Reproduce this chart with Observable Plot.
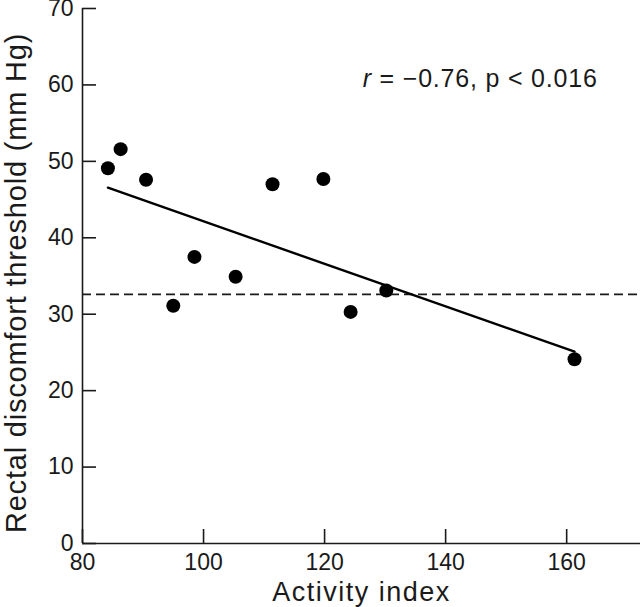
<!DOCTYPE html>
<html>
<head>
<meta charset="utf-8">
<script src="https://cdn.jsdelivr.net/npm/d3@7"></script>
<script src="https://cdn.jsdelivr.net/npm/@observablehq/plot@0.6"></script>
<style>
  html, body { margin: 0; padding: 0; background: #fff; }
  svg { display: block; }
  .xtitle text { letter-spacing: 1.5px; }
  .ytitle text { letter-spacing: 0.8px; }
  .annot text { letter-spacing: 0.8px; }
</style>
</head>
<body>
<div id="chart"></div>
<script>
// Data
const activityIndex = [84.2, 86.3, 90.5, 95.0, 98.5, 105.3, 111.4, 119.8, 124.3, 130.2, 161.3];
const discomfortThreshold = [49.1, 51.6, 47.6, 31.1, 37.5, 34.9, 47.0, 47.7, 30.3, 33.1, 24.1];
const referenceLevel = [32.6];
const xTicks = [80, 100, 120, 140, 160];
const yTicks = [0, 10, 20, 30, 40, 50, 60, 70];
const xTitle = "Activity index";
const yTitle = "Rectal discomfort threshold (mm Hg)";
const annotation = ["r = \u22120.76, p < 0.016"];
const annotationPos = {x: 126.3, y: 60.8};

const points = activityIndex.map((x, i) => ({x, y: discomfortThreshold[i]}));
const font = "'Liberation Sans', Arial, Helvetica, sans-serif";
const ink = "#1a1a1a";

const chart = Plot.plot({
  width: 640,
  height: 607,
  marginLeft: 82,
  marginRight: 0,
  marginTop: 8,
  marginBottom: 64,
  style: {fontFamily: font, background: "#fff", color: ink, overflow: "visible"},
  x: {domain: [80, 172.2]},
  y: {domain: [0, 70]},
  marks: [
    Plot.ruleY(referenceLevel, {stroke: ink, strokeWidth: 1.6, strokeDasharray: "9,5"}),
    Plot.linearRegressionY(points, {x: "x", y: "y", ci: 0, stroke: "#000", strokeWidth: 2.4}),
    Plot.dot(points, {x: "x", y: "y", r: 7, fill: "#000", stroke: "none"}),
    Plot.axisX({ticks: xTicks, tickSize: -14, tickPadding: 24, fontSize: 23, stroke: ink, strokeWidth: 1.6, fill: ink, label: null, tickFormat: d => String(d)}),
    Plot.axisY({ticks: yTicks, tickSize: -14, tickPadding: 23, fontSize: 23, stroke: ink, strokeWidth: 1.6, fill: ink, label: null, tickFormat: d => String(d)}),
    Plot.ruleY([0], {stroke: ink, strokeWidth: 1.6}),
    Plot.ruleX([80], {stroke: ink, strokeWidth: 1.6}),
    Plot.text([xTitle], {frameAnchor: "bottom", textAnchor: "middle", dy: 49, lineAnchor: "middle", fontSize: 27, fill: ink, className: "xtitle"}),
    Plot.text([yTitle], {frameAnchor: "left", textAnchor: "middle", dx: -66, dy: 7, rotate: -90, lineAnchor: "middle", fontSize: 29, fill: ink, className: "ytitle"}),
    Plot.text(annotation, {x: annotationPos.x, y: annotationPos.y, textAnchor: "start", lineAnchor: "middle", fontSize: 25, fill: ink, className: "annot"})
  ]
});

document.getElementById("chart").appendChild(chart);

// Italicise the leading "r" of the annotation
d3.select(chart).selectAll(".annot text").each(function() {
  const t = this.textContent;
  if (t.startsWith("r")) {
    const sel = d3.select(this);
    sel.text(null);
    sel.append("tspan").attr("font-style", "italic").text("r");
    sel.append("tspan").text(t.slice(1));
  }
});
</script>
</body>
</html>
